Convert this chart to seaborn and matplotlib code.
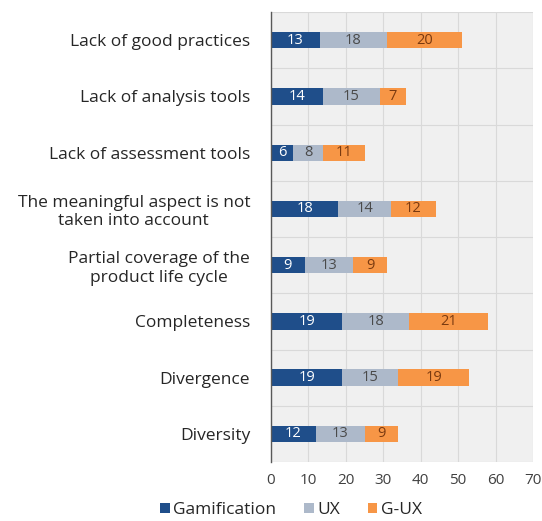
import numpy as np
import pandas as pd
import matplotlib
matplotlib.use("Agg")
import matplotlib.pyplot as plt
from matplotlib.patches import Patch
import seaborn as sns

categories = [
    "Lack of good practices",
    "Lack of analysis tools",
    "Lack of assessment tools",
    "The meaningful aspect is not\ntaken into account",
    "Partial coverage of the\nproduct life cycle",
    "Completeness",
    "Divergence",
    "Diversity",
]
gamification = [13, 14, 6, 18, 9, 19, 19, 12]
ux = [18, 15, 8, 14, 13, 18, 15, 13]
g_ux = [20, 7, 11, 12, 9, 21, 19, 9]
series_names = ["Gamification", "UX", "G-UX"]
x_ticks = [0, 10, 20, 30, 40, 50, 60, 70]

colors = ["#1F4E8A", "#ADB9CA", "#F79646"]
text_colors = ["white", "#4A4A4A", "#7A3A10"]

sns.set_theme(style="white")
plt.rcParams["font.family"] = ["Open Sans", "DejaVu Sans"]

fig = plt.figure(figsize=(5.42, 5.21), dpi=100)
ax = fig.add_axes([0.5, 0.1132, 0.4834, 0.8637])
ax.set_facecolor("#F0F0F0")

df = pd.DataFrame({"category": categories, "Gamification": gamification,
                   "UX": ux, "G-UX": g_ux})

left = np.zeros(len(categories))
for name, col, tcol in zip(series_names, colors, text_colors):
    vals = df[name].to_numpy(dtype=float)
    sns.barplot(data=df, x=name, y="category", orient="h", order=categories,
                color=col, saturation=1, width=0.29, left=left.copy(),
                linewidth=0, ax=ax, zorder=3)
    for i, v in enumerate(vals):
        ax.text(left[i] + v / 2, i, f"{int(v)}", ha="center", va="center",
                color=tcol, fontsize=10.5, zorder=4)
    left += vals

ax.set_xlim(0, 70)
ax.set_ylim(7.5, -0.5)
ax.set_xticks(x_ticks)
ax.set_xticklabels([str(t) for t in x_ticks])
ax.set_xlabel("")
ax.set_ylabel("")

# category separators and vertical gridlines
ax.set_yticks(np.arange(-0.5, 8, 1), minor=True)
ax.grid(True, which="minor", axis="y", color="#D9D9D9", linewidth=0.8, zorder=0)
ax.grid(True, which="major", axis="x", color="#D9D9D9", linewidth=0.8, zorder=0)
ax.set_axisbelow(True)

for s in ["top", "right", "bottom"]:
    ax.spines[s].set_visible(False)
ax.spines["left"].set_color("#595959")
ax.spines["left"].set_linewidth(1.0)
ax.spines["left"].set_zorder(5)

ax.tick_params(axis="y", which="both", length=0, labelsize=12.5,
               labelcolor="#262626", pad=15)
ax.tick_params(axis="x", length=0, labelsize=11, labelcolor="#404040", pad=8)
for lbl in ax.get_yticklabels():
    lbl.set_multialignment("center")

handles = [Patch(facecolor=c, edgecolor="none") for c in colors]
fig.legend(handles, series_names, loc="center", ncol=3,
           bbox_to_anchor=(0.537, 0.021), frameon=False, fontsize=12.5,
           handlelength=0.55, handleheight=0.55, handletextpad=0.2,
           columnspacing=1.6, labelcolor="#262626")

fig.savefig("out.png", dpi=100, facecolor="white")
